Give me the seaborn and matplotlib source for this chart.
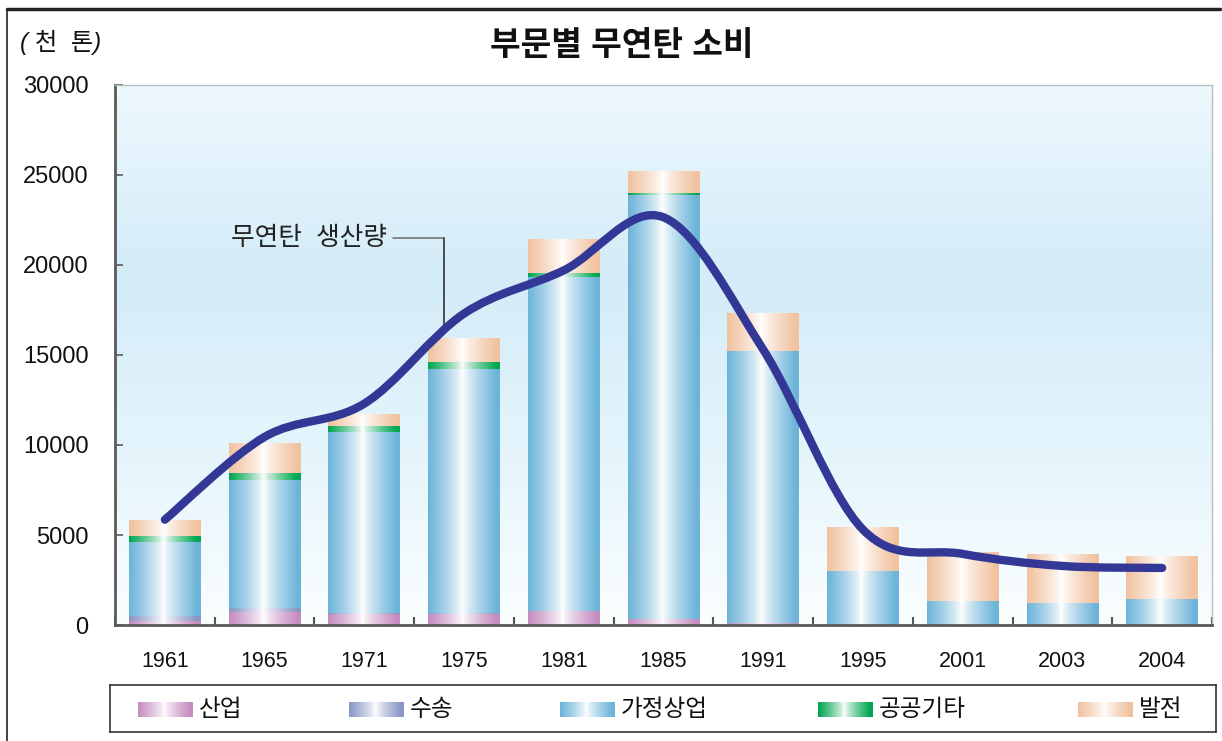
import numpy as np
import pandas as pd
import matplotlib
matplotlib.use('Agg')
import matplotlib.pyplot as plt
import seaborn as sns
from matplotlib.path import Path
from matplotlib.patches import PathPatch
from matplotlib.colors import to_rgb
from matplotlib.lines import Line2D

# ---------------- data ----------------
years = ['1961', '1965', '1971', '1975', '1981', '1985', '1991', '1995', '2001', '2003', '2004']
industry = [170, 690, 580, 580, 740, 300, 60, 0, 30, 0, 30]          # 산업
transport = [290, 215, 50, 50, 30, 0, 0, 0, 0, 0, 0]                 # 수송
household = [4100, 7095, 10090, 13590, 18510, 23550, 15160, 3000, 1250, 1170, 1410]  # 가정상업
public = [380, 440, 280, 340, 220, 110, 0, 0, 0, 0, 0]               # 공공기타
power = [840, 1670, 670, 1380, 1890, 1210, 2110, 2440, 2720, 2770, 2390]  # 발전
production = [5850, 10450, 12300, 17300, 19700, 22650, 15300, 5300, 3950, 3280, 3170]  # 무연탄 생산량

series_names = ['산업', '수송', '가정상업', '공공기타', '발전']
series_colors = ['#c58cc0', '#8796c6', '#6db4d9', '#00a651', '#f1c29f']
yticks = [0, 5000, 10000, 15000, 20000, 25000, 30000]

# ---------------- style ----------------
sns.set_theme(style='white')
plt.rcParams['font.family'] = ['Liberation Sans', 'Noto Sans CJK KR']
plt.rcParams['axes.unicode_minus'] = False

W, H = 1222, 741
fig = plt.figure(figsize=(W / 100, H / 100), dpi=100)
ax = fig.add_axes([115 / W, 1 - 625 / H, (1212 - 115) / W, 540 / H])


def grad_img(color, n=256):
    c = np.array(to_rgb(color))
    t = np.linspace(0, 1, n)
    d = np.abs(t - 0.48) / 0.52
    w = np.clip(d * 1.1, 0, 1) ** 0.8
    img = 1 - (1 - c)[None, :] * w[:, None]
    return img[None, :, :]


# background gradient of the plotting area
stops_pos = [0.0, 0.3, 0.65, 1.0]
stops_col = ['#fbfeff', '#e6f5fc', '#d3ecf8', '#eef8fd']
ys = np.linspace(0, 1, 300)
bg = np.stack([np.interp(ys, stops_pos, [to_rgb(c)[i] for c in stops_col]) for i in range(3)], axis=-1)
bg = bg[::-1][:, None, :]
ax.imshow(bg, extent=[0, 1, 0, 1], transform=ax.transAxes, aspect='auto', zorder=0,
          interpolation='bilinear')

# stacked bars: draw cumulative totals from top layer downward
layers = np.array([industry, transport, household, public, power], dtype=float)
cum = np.cumsum(layers, axis=0)
first_patches = None
for order, k in enumerate(range(len(series_names) - 1, -1, -1)):
    df = pd.DataFrame({'year': years, 'value': cum[k]})
    n_before = len(ax.patches)
    sns.barplot(data=df, x='year', y='value', color=series_colors[k], width=0.72,
                ax=ax, saturation=1, errorbar=None)
    new = ax.patches[n_before:]
    if first_patches is None:
        first_patches = list(new)
    img = grad_img(series_colors[k])
    for p in new:
        p.set_facecolor('none')
        p.set_edgecolor('none')
        h = p.get_height()
        if h <= 0:
            continue
        x0 = p.get_x()
        ax.imshow(img, extent=[x0, x0 + p.get_width(), p.get_y(), p.get_y() + h],
                  aspect='auto', zorder=2 + order * 0.1, interpolation='bilinear')

# smooth production line (Catmull-Rom through the yearly values)
xs = np.array([p.get_x() + p.get_width() / 2 for p in first_patches])
pts = np.column_stack([xs, production])
verts = [tuple(pts[0])]
codes = [Path.MOVETO]
n = len(pts)
for i in range(n - 1):
    p0 = pts[max(i - 1, 0)]
    p1 = pts[i]
    p2 = pts[i + 1]
    p3 = pts[min(i + 2, n - 1)]
    c1 = p1 + (p2 - p0) / 6
    c2 = p2 - (p3 - p1) / 6
    verts += [tuple(c1), tuple(c2), tuple(p2)]
    codes += [Path.CURVE4] * 3
ax.add_patch(PathPatch(Path(verts, codes), facecolor='none', edgecolor='#333896',
                       lw=6, capstyle='round', joinstyle='round', zorder=5))

# annotation for the line
ax.text(2.23, 21500, '무연탄  생산량', ha='right', va='center', fontsize=18.5,
        color='#222222', zorder=6)
ax.plot([2.29, 2.8], [21500, 21500], color='#777777', lw=1.2, zorder=4)
ax.plot([2.8, 2.8], [21500, 16400], color='#333333', lw=1.2, zorder=4)

# axes
ax.set_xlim(-0.5, len(years) - 0.5)
ax.set_ylim(0, 30000)
ax.set_yticks(yticks)
ax.set_yticklabels([str(v) for v in yticks])
ax.set_xlabel('')
ax.set_ylabel('')
ax.tick_params(axis='y', direction='in', length=6, width=1.3, color='#666666',
               labelsize=17, pad=19, labelcolor='#111111', left=True)
ax.tick_params(axis='x', which='major', length=0, labelsize=15.5, pad=19, labelcolor='#111111')
ax.set_xticks(np.arange(-0.5, len(years), 1.0), minor=True)
ax.tick_params(axis='x', which='minor', direction='in', length=6, width=1.5,
               color='#555555', bottom=True)
for s in ['left', 'bottom']:
    ax.spines[s].set_color('#5a5a5a')
    ax.spines[s].set_linewidth(2)
for s in ['top', 'right']:
    ax.spines[s].set_color('#b8bdc2')
    ax.spines[s].set_linewidth(1)
ax.grid(False)

# titles
fig.text(622 / W, 1 - 46 / H, '부문별 무연탄 소비', ha='center', va='center',
         fontsize=24, fontweight='bold', color='#111111')
fig.text(20 / W, 1 - 42 / H, '( 천  톤)', ha='left', va='center', fontsize=17.5,
         style='italic', color='#111111')

# figure frame lines
fig.add_artist(Line2D([7 / W, 1220 / W], [1 - 9 / H, 1 - 9 / H], transform=fig.transFigure,
                      color='#222222', lw=2.5))
fig.add_artist(Line2D([7 / W, 7 / W], [0, 1 - 9 / H], transform=fig.transFigure,
                      color='#222222', lw=1.2))

# legend box
lax = fig.add_axes([110 / W, 1 - 732 / H, 1106 / W, 47 / H])
lax.set_xticks([])
lax.set_yticks([])
for s in lax.spines.values():
    s.set_color('#333333')
    s.set_linewidth(1.2)
lax.set_facecolor('white')
leg_x = [28, 239, 450, 708, 968]
for name, col, lx in zip(series_names, series_colors, leg_x):
    lax.imshow(grad_img(col), extent=[lx, lx + 55, 15, 30], aspect='auto',
               interpolation='bilinear')
    lax.text(lx + 61, 22.5, name, ha='left', va='center', fontsize=17, color='#111111')
lax.set_xlim(0, 1106)
lax.set_ylim(0, 47)

fig.savefig('out.png', dpi=100)
